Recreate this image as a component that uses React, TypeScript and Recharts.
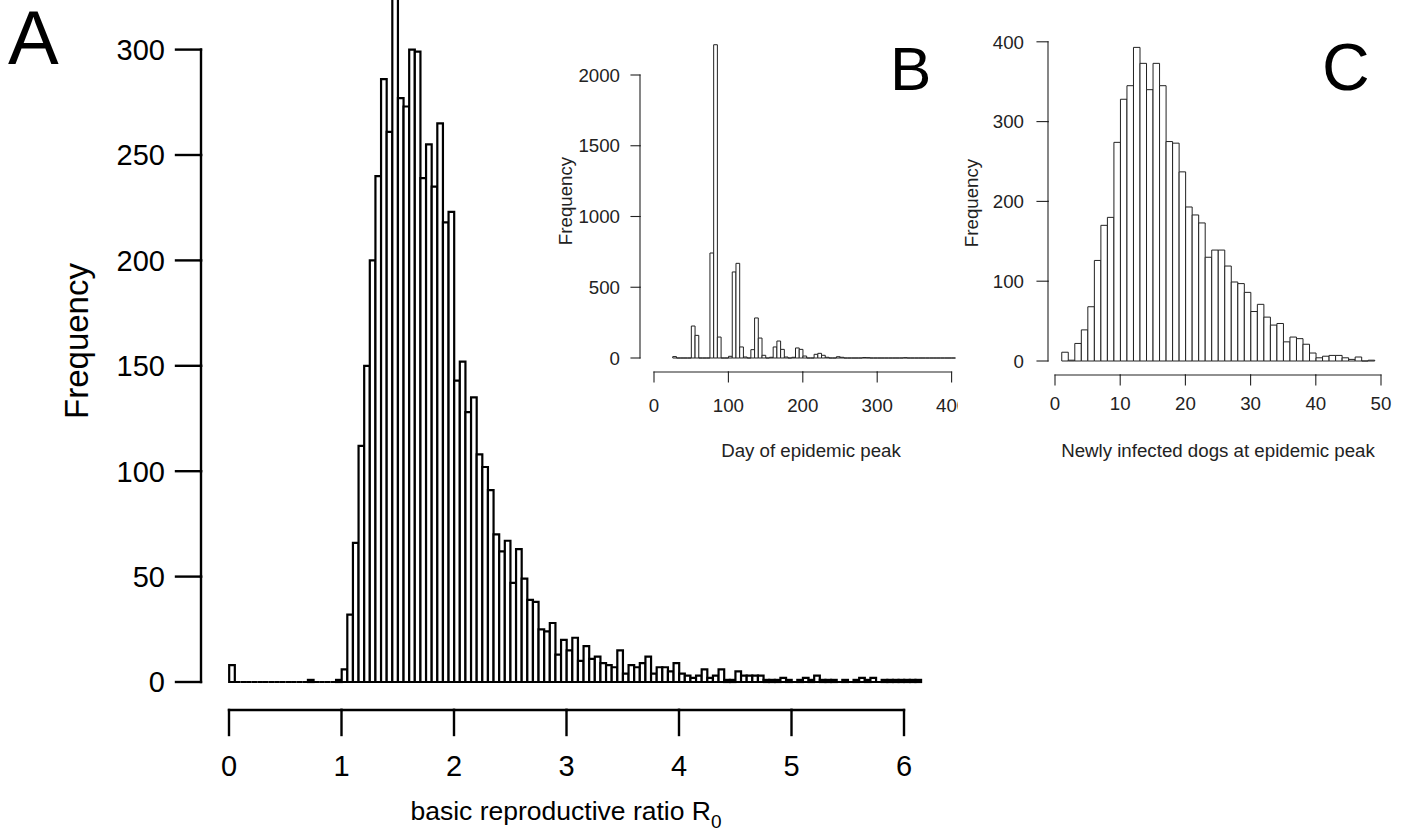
import React from 'react';
import { BarChart, Bar, XAxis, YAxis } from 'recharts';

const FONT = '"Liberation Sans", Arial, Helvetica, sans-serif';

// A: basic reproductive ratio R0, bins of 0.05 starting at 0
const r0BinStart = 0;
const r0BinWidth = 0.05;
const r0Counts = [
  8, 0, 0, 0, 0, 0, 0, 0, 0, 0,
  0, 0, 0, 0, 1, 0, 0, 0, 0, 1,
  6, 32, 66, 112, 150, 200, 240, 286, 261, 335,
  277, 273, 300, 299, 239, 255, 235, 265, 218, 223,
  143, 152, 128, 135, 108, 102, 91, 70, 62, 67,
  47, 63, 49, 39, 38, 25, 24, 28, 13, 20,
  15, 21, 10, 17, 11, 12, 9, 8, 7, 15,
  4, 8, 7, 9, 12, 4, 7, 7, 5, 9,
  4, 3, 2, 3, 6, 2, 3, 6, 1, 1,
  5, 3, 3, 3, 3, 1, 1, 1, 2, 1,
  0, 1, 2, 1, 3, 1, 1, 1, 0, 1,
  0, 1, 2, 1, 2, 0, 1, 1, 1, 1,
  1, 1, 1,
];
const r0Ticks = [0, 1, 2, 3, 4, 5, 6];
const r0FreqTicks = [0, 50, 100, 150, 200, 250, 300];

// B: day of epidemic peak, 5-day bins starting at day 25
const peakDayBinStart = 25;
const peakDayBinWidth = 5;
const peakDayCounts = [
  10, 0, 0, 0, 0, 226, 160, 0, 0, 0,
  742, 2214, 148, 0, 0, 12, 608, 669, 78, 7,
  0, 59, 283, 141, 19, 0, 5, 78, 120, 61,
  7, 0, 5, 71, 61, 14, 0, 0, 26, 33,
  19, 5, 0, 0, 9, 5, 0, 0, 0, 0,
  0, 3, 2, 0, 0, 0, 0, 0, 0, 0,
  0, 0, 2, 0, 0, 0, 0, 0, 0, 0,
  0, 0, 0, 0, 0, 0,
];
const peakDayTicks = [0, 100, 200, 300, 400];
const peakDayFreqTicks = [0, 500, 1000, 1500, 2000];

// C: newly infected dogs at epidemic peak, unit bins starting at 1
const peakDogsBinStart = 1;
const peakDogsBinWidth = 1;
const peakDogsCounts = [
  11, 1, 22, 39, 68, 126, 170, 180, 274, 328,
  345, 393, 373, 340, 373, 345, 275, 273, 237, 193,
  183, 173, 130, 139, 139, 119, 99, 97, 86, 62,
  71, 55, 45, 47, 24, 30, 28, 21, 10, 4,
  6, 7, 7, 4, 2, 5, 0, 1,
];
const peakDogsTicks = [0, 10, 20, 30, 40, 50];
const peakDogsFreqTicks = [0, 100, 200, 300, 400];

type PanelProps = {
  left: number; top: number; width: number; height: number;
  counts: number[]; binStart: number; binWidth: number; binPx: number;
  plotLeft: number; plotBottom: number; pxPerCount: number; countMax: number;
  xTicks: number[]; yTicks: number[];
  yAxisX: number; yTickLen: number; yLabelX: number;
  xAxisY: number; xTickLen: number; xLabelY: number;
  tickFont: number; ink: string; lineWidth: number; barLine: number;
  xTitle: React.ReactNode; xTitleX: number; xTitleY: number; titleFont: number;
  yTitleX: number; yTitleY: number; yTitleFont: number;
};

function HistPanel(p: PanelProps) {
  const n = p.counts.length;
  const data = p.counts.map((count, i) => ({ bin: i, start: p.binStart + i * p.binWidth, count }));
  const plotW = n * p.binPx;
  const plotH = p.countMax * p.pxPerCount;
  const innerLeft = p.plotLeft - p.left;
  const innerBottom = p.plotBottom - p.top;
  const margin = { top: innerBottom - plotH, right: p.width - innerLeft - plotW, bottom: 0, left: 0 };
  const pxPerX = p.binPx / p.binWidth;
  const xStep = p.xTicks[1] - p.xTicks[0];
  const yStep = p.yTicks[1] - p.yTicks[0];
  const xLast = p.xTicks[p.xTicks.length - 1];
  const yLast = p.yTicks[p.yTicks.length - 1];
  const line = { stroke: p.ink, strokeWidth: p.lineWidth, strokeLinecap: 'square' as const };

  // R style axis: detached from the plot, line only spans first to last tick
  const XTick = (t: any) => {
    const v = t.payload.value;
    const ay = p.xAxisY - p.top;
    return (
      <g>
        <line x1={t.x} y1={ay} x2={t.x} y2={ay + p.xTickLen} {...line} />
        {v < xLast && <line x1={t.x} y1={ay} x2={t.x + xStep * pxPerX} y2={ay} {...line} />}
        <text x={t.x} y={p.xLabelY - p.top} textAnchor="middle" fontSize={p.tickFont} fontFamily={FONT} fill={p.ink}>
          {v}
        </text>
      </g>
    );
  };

  const YTick = (t: any) => {
    const v = t.payload.value;
    const ax = p.yAxisX - p.left;
    return (
      <g>
        <line x1={ax - p.yTickLen} y1={t.y} x2={ax} y2={t.y} {...line} />
        {v < yLast && <line x1={ax} y1={t.y} x2={ax} y2={t.y - yStep * p.pxPerCount} {...line} />}
        <text x={p.yLabelX - p.left} y={t.y + p.tickFont * 0.36} textAnchor="end" fontSize={p.tickFont} fontFamily={FONT} fill={p.ink}>
          {v}
        </text>
      </g>
    );
  };

  const XTitle = () => (
    <text x={p.xTitleX - p.left} y={p.xTitleY - p.top} textAnchor="middle" fontSize={p.titleFont} fontFamily={FONT} fill={p.ink}>
      {p.xTitle}
    </text>
  );

  const YTitle = () => {
    const x = p.yTitleX - p.left;
    const y = p.yTitleY - p.top;
    return (
      <text x={x} y={y} transform={`rotate(-90 ${x} ${y})`} textAnchor="middle" fontSize={p.yTitleFont} fontFamily={FONT} fill={p.ink}>
        Frequency
      </text>
    );
  };

  const histRect = (b: any) => {
    const cx = b.x + b.width / 2;
    const x0 = cx - p.binPx / 2;
    const x1 = cx + p.binPx / 2;
    const y1 = b.y + b.height;
    return <path d={`M${x0},${y1}V${b.y}H${x1}V${y1}Z`} fill="#fff" stroke={p.ink} strokeWidth={p.barLine} />;
  };

  return (
    <div style={{ position: 'absolute', left: p.left, top: p.top }}>
      <BarChart width={p.width} height={p.height} data={data} margin={margin} barCategoryGap={0} barGap={0}>
        <XAxis xAxisId="bins" dataKey="bin" hide />
        <XAxis
          xAxisId="num"
          type="number"
          dataKey="start"
          domain={[p.binStart, p.binStart + n * p.binWidth]}
          ticks={p.xTicks}
          interval={0}
          height={p.height - innerBottom}
          axisLine={false}
          tickLine={false}
          tickSize={0}
          tickMargin={0}
          tick={XTick}
          label={<XTitle />}
        />
        <YAxis
          domain={[0, p.countMax]}
          ticks={p.yTicks}
          interval={0}
          width={innerLeft}
          axisLine={false}
          tickLine={false}
          tickSize={0}
          tickMargin={0}
          tick={YTick}
          label={<YTitle />}
        />
        <Bar xAxisId="bins" dataKey="count" shape={histRect} isAnimationActive={false} />
      </BarChart>
    </div>
  );
}

export default function App() {
  return (
    <div style={{ position: 'absolute', left: 0, top: 0, width: 1401, height: 835, background: '#fff' }}>
      <HistPanel
        left={0} top={0} width={935} height={835}
        counts={r0Counts} binStart={r0BinStart} binWidth={r0BinWidth} binPx={5.625}
        plotLeft={229} plotBottom={682} pxPerCount={2.108} countMax={340}
        xTicks={r0Ticks} yTicks={r0FreqTicks}
        yAxisX={201} yTickLen={25} yLabelX={165}
        xAxisY={710} xTickLen={25} xLabelY={776}
        tickFont={29} ink="#000" lineWidth={2.4} barLine={2.2}
        xTitle={<><tspan>basic reproductive ratio R</tspan><tspan dy={8} fontSize={19}>0</tspan></>}
        xTitleX={566} xTitleY={820} titleFont={26.5}
        yTitleX={88} yTitleY={341} yTitleFont={33}
      />
      <HistPanel
        left={540} top={0} width={418} height={480}
        counts={peakDayCounts} binStart={peakDayBinStart} binWidth={peakDayBinWidth} binPx={3.72}
        plotLeft={672.6} plotBottom={358} pxPerCount={0.1415} countMax={2250}
        xTicks={peakDayTicks} yTicks={peakDayFreqTicks}
        yAxisX={640} yTickLen={9} yLabelX={620}
        xAxisY={372} xTickLen={10} xLabelY={412}
        tickFont={18.7} ink="#222" lineWidth={1.1} barLine={1}
        xTitle="Day of epidemic peak"
        xTitleX={811} xTitleY={457} titleFont={18.7}
        yTitleX={572} yTitleY={201} yTitleFont={18.7}
      />
      <HistPanel
        left={960} top={0} width={441} height={480}
        counts={peakDogsCounts} binStart={peakDogsBinStart} binWidth={peakDogsBinWidth} binPx={6.52}
        plotLeft={1061.52} plotBottom={361} pxPerCount={0.798} countMax={400}
        xTicks={peakDogsTicks} yTicks={peakDogsFreqTicks}
        yAxisX={1048} yTickLen={11} yLabelX={1024}
        xAxisY={375} xTickLen={10} xLabelY={410}
        tickFont={18.7} ink="#222" lineWidth={1.1} barLine={1}
        xTitle="Newly infected dogs at epidemic peak"
        xTitleX={1218} xTitleY={457} titleFont={18.7}
        yTitleX={978} yTitleY={203} yTitleFont={18.7}
      />
      <svg width={1401} height={835} style={{ position: 'absolute', left: 0, top: 0, pointerEvents: 'none' }}>
        <text x={8} y={64} fontSize={76} fontFamily={FONT} fill="#000">A</text>
        <text x={890} y={90} fontSize={62} fontFamily={FONT} fill="#000">B</text>
        <text x={1322} y={90} fontSize={66} fontFamily={FONT} fill="#000">C</text>
      </svg>
    </div>
  );
}
